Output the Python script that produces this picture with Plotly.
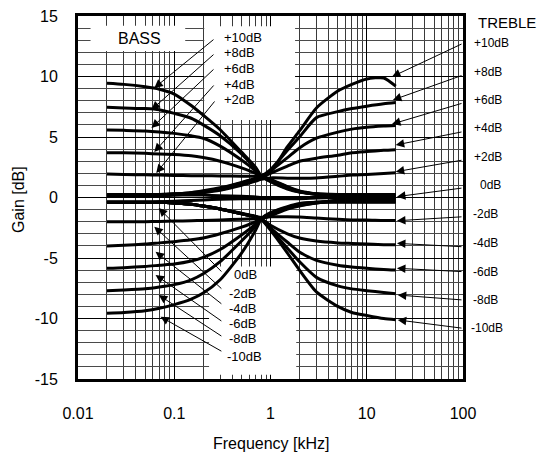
import math
import plotly.graph_objects as go

# ---------------- data ----------------
freq_khz = [0.02, 0.03, 0.05, 0.07, 0.1, 0.15, 0.2, 0.3, 0.5, 0.7, 0.8,
            1, 1.5, 2, 3, 5, 7, 10, 15, 20]

bass_p10 = [9.44, 9.35, 9.15, 8.95, 8.55, 7.6, 6.8, 5.6, 3.75, 2.5, 1.8,
            1.3, 0.7, 0.45, 0.3, 0.25, 0.25, 0.25, 0.25, 0.25]
bass_p8 = [7.45, 7.4, 7.35, 7.25, 6.95, 6.55, 6.0, 5.1, 3.6, 2.35, 1.75,
           1.35, 0.75, 0.45, 0.3, 0.2, 0.2, 0.2, 0.2, 0.2]
bass_p6 = [5.58, 5.55, 5.5, 5.42, 5.3, 5.1, 4.9, 4.25, 3.1, 2.2, 1.75,
           1.4, 0.8, 0.5, 0.25, 0.15, 0.15, 0.15, 0.15, 0.15]
bass_p4 = [3.7, 3.7, 3.65, 3.6, 3.55, 3.45, 3.3, 3.0, 2.45, 2.0, 1.75,
           1.45, 0.85, 0.5, 0.25, 0.1, 0.1, 0.1, 0.1, 0.1]
bass_p2 = [1.94, 1.9, 1.88, 1.85, 1.82, 1.8, 1.8, 1.78, 1.76, 1.75, 1.75,
           1.5, 0.9, 0.55, 0.3, 0.1, 0.05, 0.05, 0.05, 0.05]
bass_0 = [0.2, 0.2, 0.2, 0.2, 0.2, 0.2, 0.2, 0.15, 0.1, 0.05, 0.0,
          0.0, 0.0, 0.0, 0.0, 0.0, 0.0, 0.0, 0.0, 0.0]
bass_m2 = [-2.0, -2.0, -2.0, -1.98, -1.95, -1.92, -1.9, -1.85, -1.8, -1.75, -1.75,
           -1.5, -0.95, -0.7, -0.45, -0.2, -0.15, -0.15, -0.15, -0.15]
bass_m4 = [-4.0, -3.95, -3.85, -3.75, -3.65, -3.5, -3.35, -3.0, -2.45, -2.0, -1.75,
           -1.4, -0.9, -0.65, -0.45, -0.25, -0.2, -0.2, -0.2, -0.2]
bass_m6 = [-5.85, -5.8, -5.7, -5.6, -5.5, -5.25, -4.95, -4.3, -3.1, -2.2, -1.75,
           -1.35, -0.85, -0.6, -0.4, -0.3, -0.3, -0.3, -0.3, -0.3]
bass_m8 = [-7.7, -7.65, -7.55, -7.4, -7.2, -6.8, -6.3, -5.3, -3.6, -2.4, -1.75,
           -1.3, -0.8, -0.55, -0.4, -0.35, -0.35, -0.35, -0.35, -0.35]
bass_m10 = [-9.57, -9.5, -9.35, -9.15, -8.85, -8.4, -7.9, -6.8, -4.6, -2.7, -1.8,
            -1.25, -0.75, -0.5, -0.4, -0.4, -0.4, -0.4, -0.4, -0.4]

treble_p10 = [0.25, 0.25, 0.25, 0.25, 0.3, 0.4, 0.55, 0.8, 1.25, 1.6, 1.8,
              2.1, 4.2, 5.5, 7.4, 8.8, 9.35, 9.8, 9.88, 9.2]
treble_p8 = [0.25, 0.25, 0.25, 0.25, 0.3, 0.4, 0.5, 0.75, 1.2, 1.55, 1.75,
             2.3, 3.9, 5.0, 6.6, 7.1, 7.35, 7.55, 7.75, 7.85]
treble_p6 = [0.2, 0.2, 0.2, 0.2, 0.25, 0.35, 0.45, 0.7, 1.15, 1.5, 1.7,
             2.2, 3.3, 4.1, 4.9, 5.4, 5.65, 5.8, 5.9, 5.95]
treble_p4 = [0.2, 0.2, 0.2, 0.2, 0.25, 0.35, 0.45, 0.65, 1.1, 1.45, 1.65,
             2.0, 2.6, 3.0, 3.25, 3.5, 3.7, 3.8, 3.9, 3.95]
treble_p2 = [0.15, 0.15, 0.15, 0.15, 0.2, 0.3, 0.4, 0.6, 1.0, 1.35, 1.5,
             1.62, 1.6, 1.6, 1.62, 1.75, 1.85, 1.9, 1.98, 2.05]
treble_0 = [-0.4, -0.4, -0.4, -0.35, -0.3, -0.25, -0.2, -0.15, -0.1, -0.1, -0.1,
            -0.1, -0.1, -0.1, -0.05, 0.0, 0.0, 0.0, 0.0, 0.0]
treble_m2 = [-0.4, -0.4, -0.4, -0.4, -0.45, -0.55, -0.7, -0.95, -1.3, -1.55, -1.65,
             -1.6, -1.6, -1.62, -1.7, -1.8, -1.85, -1.85, -1.9, -1.9]
treble_m4 = [-0.4, -0.4, -0.4, -0.4, -0.45, -0.55, -0.7, -0.95, -1.35, -1.6, -1.75,
             -2.3, -3.0, -3.35, -3.6, -3.75, -3.8, -3.85, -3.9, -3.9]
treble_m6 = [-0.4, -0.4, -0.4, -0.4, -0.45, -0.55, -0.7, -0.95, -1.35, -1.6, -1.75,
             -2.5, -3.7, -4.5, -5.2, -5.6, -5.75, -5.85, -5.95, -6.0]
treble_m8 = [-0.4, -0.4, -0.4, -0.4, -0.45, -0.55, -0.7, -0.95, -1.35, -1.6, -1.75,
             -2.6, -4.2, -5.3, -6.6, -7.3, -7.55, -7.7, -7.85, -7.95]
treble_m10 = [-0.4, -0.4, -0.4, -0.4, -0.45, -0.55, -0.7, -0.95, -1.35, -1.6, -1.8,
              -2.7, -4.6, -6.0, -7.8, -9.0, -9.5, -9.75, -10.0, -10.1]

series = [bass_p10, bass_p8, bass_p6, bass_p4, bass_p2, bass_0,
          bass_m2, bass_m4, bass_m6, bass_m8, bass_m10,
          treble_p10, treble_p8, treble_p6, treble_p4, treble_p2, treble_0,
          treble_m2, treble_m4, treble_m6, treble_m8, treble_m10]

x_tick_vals = [0.01, 0.1, 1, 10, 100]
x_tick_text = ["0.01", "0.1", "1", "10", "100"]
y_tick_vals = [-15, -10, -5, 0, 5, 10, 15]
y_tick_text = ["-15", "-10", "-5", "0", "5", "10", "15"]

bass_up_labels = ["+10dB", "+8dB", "+6dB", "+4dB", "+2dB"]
bass_dn_labels = ["0dB", "-2dB", "-4dB", "-6dB", "-8dB", "-10dB"]
treble_labels = ["+10dB", "+8dB", "+6dB", "+4dB", "+2dB", "0dB",
                 "-2dB", "-4dB", "-6dB", "-8dB", "-10dB"]

# ---------------- layout helpers (positions) ----------------
bass_up_head = [(0.062, 9.05), (0.058, 7.25), (0.058, 5.75), (0.062, 3.76), (0.065, 2.02)]
bass_up_tail = [(0.265, 13.15), (0.265, 11.92), (0.265, 10.7), (0.265, 9.38), (0.27, 8.06)]
bass_up_lab_y = [13.26, 11.97, 10.7, 9.38, 8.14]
bass_up_lab_x = 0.313

bass_dn_head = [(0.069, -0.87), (0.062, -2.41), (0.064, -4.48), (0.064, -6.4), (0.069, -8.06), (0.072, -9.85)]
bass_dn_tail = [(0.32, -6.24), (0.32, -7.64), (0.32, -8.88), (0.32, -10.29), (0.32, -11.53), (0.32, -12.77)]
bass_dn_lab_y = [-6.4, -7.92, -9.21, -10.4, -11.69, -13.1]
bass_dn_lab_x = [0.395, 0.35, 0.35, 0.35, 0.35, 0.335]

treble_head_x = [18.3, 18.7, 18.3, 20.0, 20.0, 20.6, 20.6, 20.6, 20.6, 21.0, 21.0]
treble_head_y = [9.98, 8.06, 6.07, 4.34, 2.13, 0.07, -1.92, -3.79, -5.85, -8.06, -10.12]
treble_tail_y = [12.74, 10.12, 7.81, 5.44, 3.10, 0.79, -1.59, -4.07, -6.13, -8.47, -10.81]
treble_lab_y = [12.77, 10.37, 8.06, 5.74, 3.35, 1.03, -1.36, -3.76, -6.16, -8.47, -10.79]
treble_lab_px = [472, 472, 472, 472, 472, 478, 471, 471, 471, 471, 469]

FONT = "Liberation Sans, Arial, sans-serif"

fig = go.Figure()

for s in series:
    fig.add_trace(go.Scatter(x=freq_khz, y=s, mode="lines",
                             line=dict(color="black", width=3, shape="spline", smoothing=0.6),
                             showlegend=False, hoverinfo="skip"))

# white label areas that hide the grid (between grid and traces)
boxes = [
    (0.0135, 0.13, 12.1, 14.2),
    (0.205, 1.8, 6.4, 14.15),
    (0.23, 1.85, -14.65, -5.7),
]
for (bx0, bx1, by0, by1) in boxes:
    fig.add_shape(type="rect", xref="x", yref="y", x0=bx0, x1=bx1, y0=by0, y1=by1,
                  fillcolor="white", line=dict(width=0), layer="between")

ann = []
L = math.log10
arrow_style = dict(showarrow=True, arrowhead=2, arrowsize=1.7, arrowwidth=1,
                   arrowcolor="black", axref="x", ayref="y", xref="x", yref="y", text="")
for (hx, hy), (tx, ty) in zip(bass_up_head, bass_up_tail):
    ann.append(dict(x=L(hx), y=hy, ax=L(tx), ay=ty, **arrow_style))
for (hx, hy), (tx, ty) in zip(bass_dn_head, bass_dn_tail):
    ann.append(dict(x=L(hx), y=hy, ax=L(tx), ay=ty, **arrow_style))
for hx, hy, ty in zip(treble_head_x, treble_head_y, treble_tail_y):
    ann.append(dict(x=L(hx), y=hy, ax=2.0, ay=ty, **arrow_style))

for t, yy in zip(bass_up_labels, bass_up_lab_y):
    ann.append(dict(x=L(bass_up_lab_x), y=yy, xref="x", yref="y", text=t, showarrow=False,
                    xanchor="left", yanchor="middle", font=dict(size=13, color="black", family=FONT)))
for t, yy, xx in zip(bass_dn_labels, bass_dn_lab_y, bass_dn_lab_x):
    ann.append(dict(x=L(xx), y=yy, xref="x", yref="y", text=t, showarrow=False,
                    xanchor="left", yanchor="middle", font=dict(size=13, color="black", family=FONT)))
for t, yy, px in zip(treble_labels, treble_lab_y, treble_lab_px):
    ann.append(dict(x=(px - 78) / 385.0, y=yy, xref="paper", yref="y", text=t, showarrow=False,
                    xanchor="left", yanchor="middle", font=dict(size=12, color="black", family=FONT)))

ann.append(dict(x=L(0.044), y=13.18, xref="x", yref="y", text="BASS", showarrow=False,
                xanchor="center", yanchor="middle", font=dict(size=16, color="black", family=FONT)))
ann.append(dict(x=(507 - 78) / 385.0, y=14.5, xref="paper", yref="y", text="TREBLE", showarrow=False,
                xanchor="center", yanchor="middle", font=dict(size=15, color="black", family=FONT)))
ann.append(dict(x=(18 - 78) / 385.0, y=(379 - 200) / 363.0, xref="paper", yref="paper",
                text="Gain [dB]", textangle=-90, showarrow=False, xanchor="center", yanchor="middle",
                font=dict(size=16, color="black", family=FONT)))
ann.append(dict(x=0.5, y=(379 - 443) / 363.0, xref="paper", yref="paper",
                text="Frequency [kHz]", showarrow=False, xanchor="center", yanchor="middle",
                font=dict(size=16, color="black", family=FONT)))

fig.update_layout(
    width=539, height=452,
    margin=dict(l=78, r=76, t=16, b=73),
    paper_bgcolor="white", plot_bgcolor="white",
    font=dict(family=FONT, size=16, color="black"),
    annotations=ann,
    xaxis=dict(type="log", range=[-2, 2], tickvals=x_tick_vals, ticktext=x_tick_text,
               showgrid=True, gridcolor="black", gridwidth=1.2,
               minor=dict(dtick="D1", showgrid=True, gridcolor="#3a3a3a", gridwidth=1, ticks=""),
               ticks="", ticklabelstandoff=18, showline=True, linecolor="black", linewidth=3,
               mirror=True, zeroline=False, automargin=False,
               tickfont=dict(size=16, family=FONT, color="black")),
    yaxis=dict(range=[-15, 15], tickvals=y_tick_vals, ticktext=y_tick_text,
               showgrid=True, gridcolor="black", gridwidth=1,
               minor=dict(dtick=1, showgrid=True, gridcolor="#4a4a4a", gridwidth=1, ticks=""),
               ticks="", ticklabelstandoff=14, showline=True, linecolor="black", linewidth=3,
               mirror=True, zeroline=False, automargin=False,
               tickfont=dict(size=16, family=FONT, color="black")),
)

fig.write_html("out.html")
